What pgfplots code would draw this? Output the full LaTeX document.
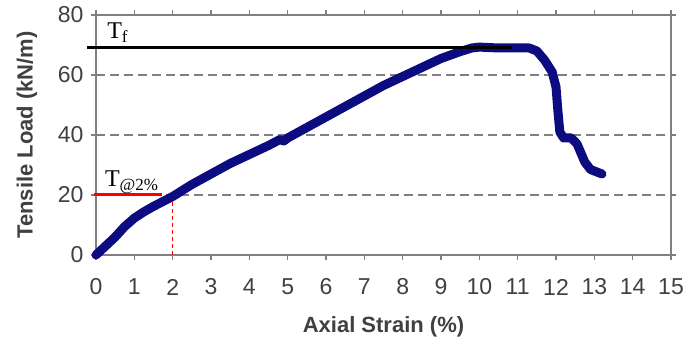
\documentclass[border=0pt]{standalone}
\usepackage{pgfplots}
\pgfplotsset{compat=1.18}
\usepackage{fontspec}
\setmainfont{Liberation Sans}
\newfontfamily\seriffont{Liberation Serif}
\usetikzlibrary{calc}
\definecolor{navy}{RGB}{12,12,128}
\definecolor{gridgray}{RGB}{128,128,128}
\definecolor{labgray}{RGB}{64,64,64}
\begin{document}
\begin{tikzpicture}
\begin{axis}[
  scale only axis, width=575pt, height=240pt,
  xmin=0, xmax=15, ymin=0, ymax=80,
  xtick={0,1,...,15}, ytick={0,20,40,60,80},
  tick align=outside, major tick length=5pt,
  tick style={gridgray, line width=1.2pt},
  axis line style={gridgray, line width=1.2pt},
  ymajorgrids,
  grid style={gridgray, line width=1.4pt, dash pattern=on 9pt off 5pt},
  /pgf/number format/assume math mode=true,
  x tick label style={font=\fontsize{23}{23}\selectfont, text=labgray, yshift=-27pt, anchor=center},
  y tick label style={font=\fontsize{23}{23}\selectfont, text=labgray, xshift=-4pt},
  xlabel={Axial Strain (\%)},
  ylabel={Tensile Load (kN/m)},
  xlabel style={font=\bfseries\fontsize{22}{22}\selectfont, text=labgray, at={(axis description cs:0.5,-0.3)}, anchor=center},
  ylabel style={font=\bfseries\fontsize{22}{22}\selectfont, text=labgray, at={(axis description cs:-0.12,0.5)}, anchor=center},
  clip=false,
]
\addplot[red, line width=1.2pt, dash pattern=on 4pt off 3pt] coordinates {(2,0) (2,19)};
\addplot[navy, line width=9pt, line cap=round, line join=round] coordinates {
(0,0) (0.25,3) (0.5,6) (0.75,9.5) (1,12.3) (1.25,14.4) (1.5,16.2) (2,19.5) (2.5,23.5) (3,27)
(3.5,30.5) (4,33.5) (4.5,36.5) (4.8,38.5) (4.9,38) (5,39) (5.5,42.5) (6,46)
(6.5,49.5) (7,53) (7.5,56.5) (8,59.5) (8.5,62.5) (9,65.5) (9.5,67.8) (9.8,69)
(10,69.3) (10.5,69) (11,69) (11.3,69) (11.5,68) (11.7,65) (11.9,61) (12.0,56)
(12.05,48) (12.1,41) (12.2,39) (12.4,39) (12.55,37) (12.65,34) (12.75,31)
(12.9,28.5) (13.1,27.5) (13.2,27)
};
\addplot[black, line width=3pt] coordinates {(-0.23,69) (10.84,69)};
\addplot[red, line width=2.5pt] coordinates {(-0.05,20.2) (1.71,20.2)};
\node[anchor=base west, inner sep=0pt, font=\seriffont\fontsize{24}{24}\selectfont] at (axis cs:0.29,72.3) {T\raisebox{-4pt}{\fontsize{17}{17}\selectfont f}};
\node[anchor=base west, inner sep=0pt, font=\seriffont\fontsize{24}{24}\selectfont] at (axis cs:0.23,22.7) {T\raisebox{-4pt}{\fontsize{17}{17}\selectfont @2\%}};
\end{axis}
\pgfresetboundingbox
\path ($(current axis.south west)+(-96pt,-90pt)$) rectangle ($(current axis.north east)+(14pt,15pt)$);
\end{tikzpicture}
\end{document}
